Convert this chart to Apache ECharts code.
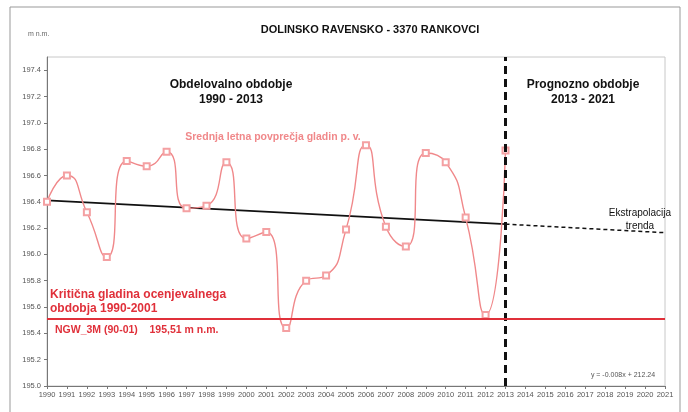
<!DOCTYPE html>
<html><head><meta charset="utf-8">
<script src="https://cdn.jsdelivr.net/npm/echarts@6/dist/echarts.min.js"></script>
<style>html,body{margin:0;padding:0;background:#fff}#c{width:688px;height:412px}</style>
</head><body><div id="c"></div>
<script>
var years = [1990,1991,1992,1993,1994,1995,1996,1997,1998,1999,2000,2001,2002,2003,2004,2005,2006,2007,2008,2009,2010,2011,2012,2013];
var levels = [196.40,196.60,196.32,195.98,196.71,196.67,196.78,196.35,196.37,196.70,196.12,196.17,195.44,195.80,195.84,196.19,196.83,196.21,196.06,196.77,196.70,196.28,195.54,196.79];
var trendYears = [1990, 2013];
var trendValues = [196.41, 196.23];
var extraYears = [2013, 2021];
var extraValues = [196.23, 196.165];
var criticalLevel = 195.51;
var splitYear = 2013;

var chart = echarts.init(document.getElementById('c'));
var pink = '#F0888A';
var red = '#E0303A';
var F = '"Liberation Sans", Arial, sans-serif';
function pairs(xs, ys){ return xs.map(function(x,i){return [x, ys[i]];}); }

chart.setOption({
  animation: false,
  grid: {left: 47, right: 23, top: 57, bottom: 26, show: true, borderColor: '#c8c8c8', borderWidth: 1},
  xAxis: {type: 'value', min: 1990, max: 2021, interval: 1,
    axisLine: {show: true, onZero: false, lineStyle: {color: '#777'}},
    axisTick: {show: true, length: 3, lineStyle: {color: '#777'}},
    axisLabel: {color: '#555', fontSize: 7.5, fontFamily: F, margin: 5, formatter: function(v){return String(v);}},
    splitLine: {show: false}},
  yAxis: {type: 'value', min: 195.0, max: 197.5, interval: 0.2,
    axisLine: {show: true, lineStyle: {color: '#777'}},
    axisTick: {show: true, length: 3, lineStyle: {color: '#777'}},
    axisLabel: {color: '#555', fontSize: 7.5, fontFamily: F, margin: 6, showMaxLabel: false, formatter: function(v){return v.toFixed(1);}},
    splitLine: {show: false}},
  series: [
    {type: 'line', data: pairs(trendYears, trendValues), symbol: 'none', lineStyle: {color: '#111', width: 1.7}, z: 3,
      markLine: {symbol: 'none', silent: true, label: {show: false},
        data: [{xAxis: splitYear, lineStyle: {color: '#111', width: 3, type: [8, 5]}}]}},
    {type: 'line', data: pairs(extraYears, extraValues), symbol: 'none', lineStyle: {color: '#111', width: 1.5, type: [4, 3]}, z: 3},
    {type: 'line', data: pairs(years, levels), smooth: 0.6, symbol: 'emptyRect', symbolSize: 6,
      itemStyle: {color: '#F4A0A2', borderWidth: 1}, lineStyle: {color: pink, width: 1.4}, z: 4,
      markLine: {symbol: 'none', silent: true, label: {show: false},
        data: [{yAxis: criticalLevel, lineStyle: {color: red, width: 2, type: 'solid'}}]}}
  ],
  graphic: [
    {type: 'rect', shape: {x: 10, y: 7, width: 670, height: 420}, style: {fill: 'none', stroke: '#999', lineWidth: 1}, silent: true},
    {type: 'text', x: 370, y: 30, style: {text: 'DOLINSKO RAVENSKO - 3370 RANKOVCI', font: 'bold 11px ' + F, fill: '#111', align: 'center', verticalAlign: 'middle'}},
    {type: 'text', x: 28, y: 34, style: {text: 'm n.m.', font: '7px ' + F, fill: '#666', align: 'left', verticalAlign: 'middle'}},
    {type: 'text', x: 231, y: 92, style: {text: 'Obdelovalno obdobje\n1990 - 2013', font: 'bold 12px ' + F, lineHeight: 15, fill: '#111', align: 'center', verticalAlign: 'middle'}},
    {type: 'text', x: 583, y: 92, style: {text: 'Prognozno obdobje\n2013 - 2021', font: 'bold 12px ' + F, lineHeight: 15, fill: '#111', align: 'center', verticalAlign: 'middle'}},
    {type: 'text', x: 273, y: 137, style: {text: 'Srednja letna povprečja gladin p. v.', font: 'bold 10.5px ' + F, fill: pink, align: 'center', verticalAlign: 'middle'}},
    {type: 'text', x: 640, y: 220, style: {text: 'Ekstrapolacija\ntrenda', font: '10px ' + F, lineHeight: 13, fill: '#111', align: 'center', verticalAlign: 'middle'}},
    {type: 'text', x: 50, y: 302, style: {text: 'Kritična gladina ocenjevalnega\nobdobja 1990-2001', font: 'bold 12px ' + F, lineHeight: 14, fill: red, align: 'left', verticalAlign: 'middle'}},
    {type: 'text', x: 55, y: 330, style: {text: 'NGW_3M (90-01)    195,51 m n.m.', font: 'bold 10.5px ' + F, fill: red, align: 'left', verticalAlign: 'middle'}},
    {type: 'text', x: 623, y: 375, style: {text: 'y = -0.008x + 212.24', font: '7px ' + F, fill: '#555', align: 'center', verticalAlign: 'middle'}}
  ]
});
</script></body></html>
